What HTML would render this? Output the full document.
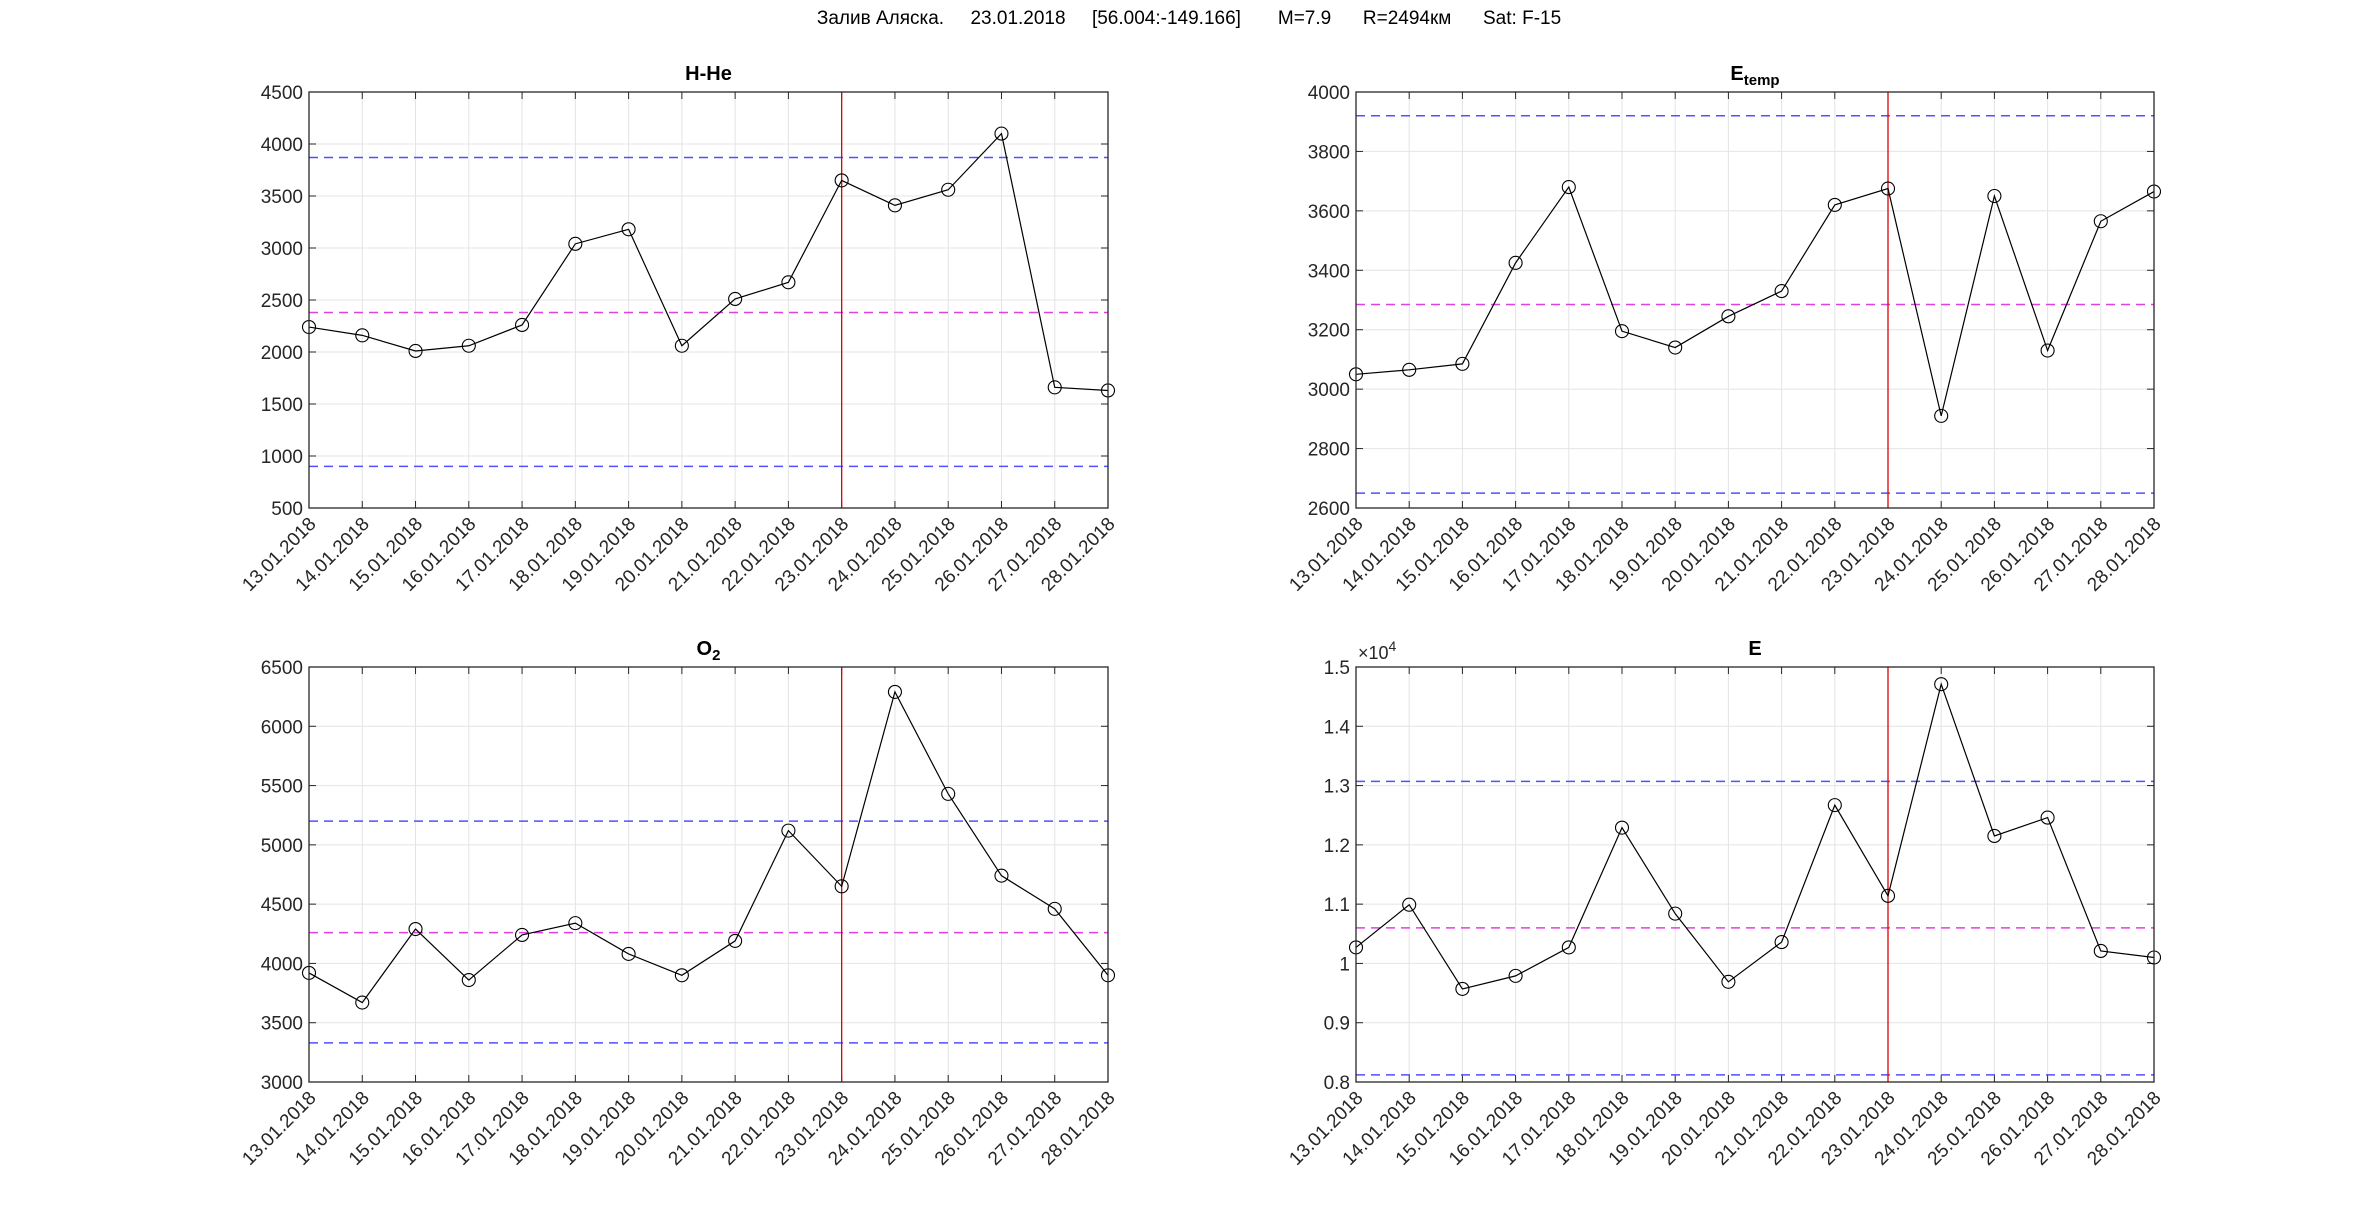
<!DOCTYPE html>
<html><head><meta charset="utf-8"><style>
html,body{margin:0;padding:0;background:#fff;}
svg{display:block;font-family:"Liberation Sans",Arial,sans-serif;}
</style></head><body>
<svg id="s" width="2378" height="1210" xmlns="http://www.w3.org/2000/svg">
<text x="1189" y="24" text-anchor="middle" font-size="19" fill="#000" xml:space="preserve">Залив Аляска.     23.01.2018     [56.004:-149.166]       M=7.9      R=2494км      Sat: F-15</text>
</svg>
<script>
var S=document.getElementById('s'),NS='http://www.w3.org/2000/svg';
function el(n,a,t){var e=document.createElementNS(NS,n);for(var k in a)e.setAttribute(k,a[k]);if(t!=null)e.textContent=t;S.appendChild(e);return e;}
var dates=["13.01.2018","14.01.2018","15.01.2018","16.01.2018","17.01.2018","18.01.2018","19.01.2018","20.01.2018","21.01.2018","22.01.2018","23.01.2018","24.01.2018","25.01.2018","26.01.2018","27.01.2018","28.01.2018"];
var P=[
{x0:309,x1:1108,y0:92,y1:508,min:500,max:4500,labs:["500","1000","1500","2000","2500","3000","3500","4000","4500"],title:"H-He",
 d:[2240,2160,2010,2060,2260,3040,3180,2060,2510,2670,3650,3410,3560,4100,1660,1630],b:[3870,900],m:2380},
{x0:1356,x1:2154,y0:92,y1:508,min:2600,max:4000,labs:["2600","2800","3000","3200","3400","3600","3800","4000"],title:"E",sub:"temp",
 d:[3050,3065,3085,3425,3680,3195,3140,3245,3330,3620,3675,2910,3650,3130,3565,3665],b:[3920,2650],m:3285},
{x0:309,x1:1108,y0:667,y1:1082,min:3000,max:6500,labs:["3000","3500","4000","4500","5000","5500","6000","6500"],title:"O",sub:"2",
 d:[3920,3670,4290,3860,4240,4340,4080,3900,4190,5120,4650,6290,5430,4740,4460,3900],b:[5200,3330],m:4260},
{x0:1356,x1:2154,y0:667,y1:1082,min:0.8,max:1.5,labs:["0.8","0.9","1","1.1","1.2","1.3","1.4","1.5"],title:"E",exp:true,
 d:[1.027,1.099,0.957,0.979,1.027,1.229,1.084,0.969,1.036,1.267,1.114,1.471,1.215,1.246,1.021,1.010],b:[1.307,0.812],m:1.06}
];
P.forEach(function(p){
 var W=p.x1-p.x0,H=p.y1-p.y0;
 function X(i){return p.x0+W*i/15;}
 function Y(v){return p.y1-H*(v-p.min)/(p.max-p.min);}
 var n=p.labs.length;
 for(var i=0;i<16;i++){var x=X(i);
  el('line',{x1:x,x2:x,y1:p.y0,y2:p.y1,stroke:'#e4e4e4','stroke-width':1});
  el('line',{x1:x,x2:x,y1:p.y1,y2:p.y1-7,stroke:'#262626','stroke-width':1});
  el('line',{x1:x,x2:x,y1:p.y0,y2:p.y0+7,stroke:'#262626','stroke-width':1});
  el('text',{x:x+8,y:p.y1+17,'text-anchor':'end','font-size':19,fill:'#262626',transform:'rotate(-45 '+(x+8)+' '+(p.y1+17)+')'},dates[i]);
 }
 for(var j=0;j<n;j++){var y=p.y1-H*j/(n-1);
  el('line',{x1:p.x0,x2:p.x1,y1:y,y2:y,stroke:'#e4e4e4','stroke-width':1});
  el('line',{x1:p.x0,x2:p.x0+7,y1:y,y2:y,stroke:'#262626'});
  el('line',{x1:p.x1,x2:p.x1-7,y1:y,y2:y,stroke:'#262626'});
  el('text',{x:p.x0-6,y:y+7,'text-anchor':'end','font-size':19,fill:'#262626'},p.labs[j]);
 }
 p.b.forEach(function(v){el('line',{x1:p.x0,x2:p.x1,y1:Y(v),y2:Y(v),stroke:'#5050ff','stroke-width':1.5,'stroke-dasharray':'9,6'});});
 el('line',{x1:p.x0,x2:p.x1,y1:Y(p.m),y2:Y(p.m),stroke:'#e040e0','stroke-width':1.5,'stroke-dasharray':'9,6'});
 el('line',{x1:X(10),x2:X(10),y1:p.y0,y2:p.y1,stroke:'#e00000','stroke-width':1.3});
 var pts=p.d.map(function(v,i){return X(i)+','+Y(v);}).join(' ');
 el('polyline',{points:pts,fill:'none',stroke:'#000','stroke-width':1.2});
 p.d.forEach(function(v,i){el('circle',{cx:X(i),cy:Y(v),r:6.5,fill:'none',stroke:'#000','stroke-width':1.1});});
 el('rect',{x:p.x0,y:p.y0,width:W,height:H,fill:'none',stroke:'#262626','stroke-width':1.3});
 var cx=(p.x0+p.x1)/2,ty=p.y0-12;
 var t=el('text',{x:cx,y:ty,'text-anchor':'middle','font-size':20,'font-weight':'bold',fill:'#000'},p.title);
 if(p.sub){var ts=document.createElementNS(NS,'tspan');ts.setAttribute('font-size',15);ts.setAttribute('dy',5);ts.textContent=p.sub;t.appendChild(ts);}
 if(p.exp){var e=el('text',{x:p.x0+2,y:p.y0-8,'font-size':18,fill:'#262626'},'×10');var s2=document.createElementNS(NS,'tspan');s2.setAttribute('font-size',14);s2.setAttribute('dy',-8);s2.textContent='4';e.appendChild(s2);}
});
</script>
</body></html>
